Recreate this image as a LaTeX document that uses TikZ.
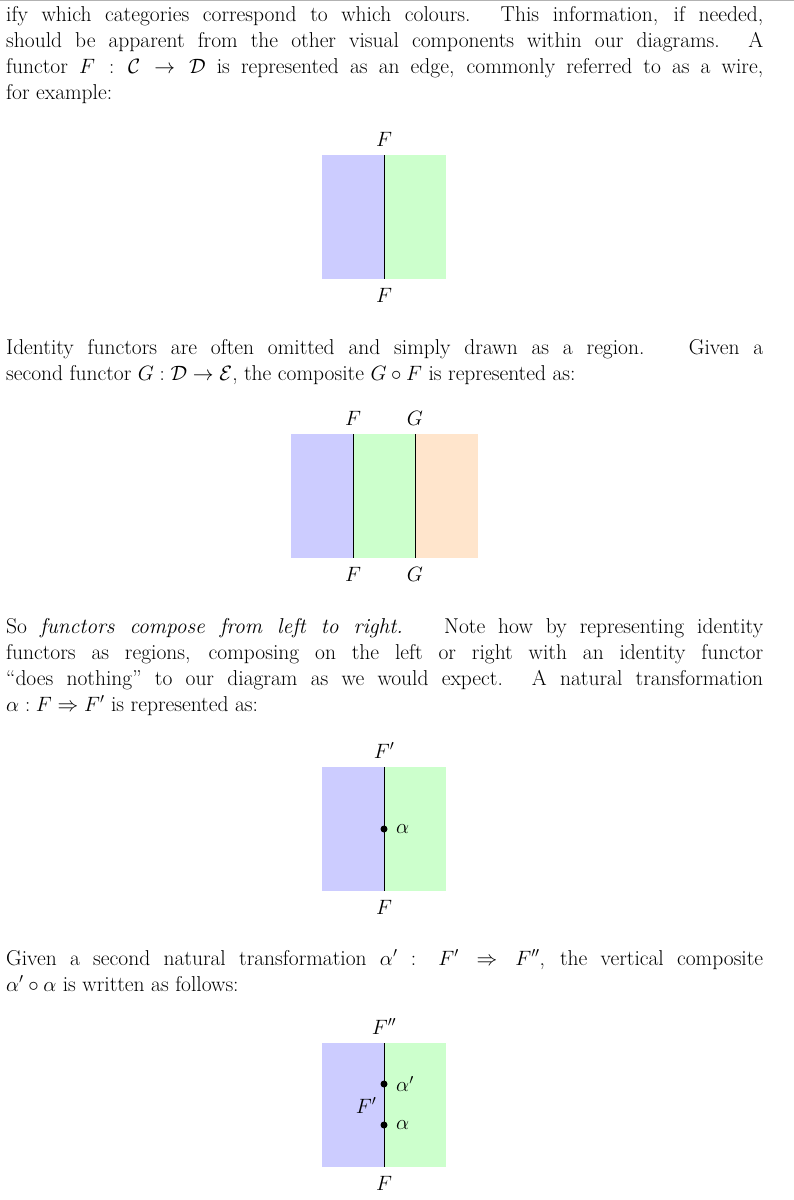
\documentclass[tikz,border=0pt]{standalone}
\usepackage{amsmath,amssymb}
\definecolor{cb}{HTML}{CCCCFF}
\definecolor{cg}{HTML}{CCFFCC}
\definecolor{co}{HTML}{FFE5CC}
\begin{document}
\begin{tikzpicture}[x=1pt,y=-1pt,
  txt/.style={anchor=base west,inner sep=0pt},
  lab/.style={inner sep=0pt,anchor=base},
  wire/.style={draw=black,line width=0.9pt},
  dot/.style={circle,fill=black,inner sep=0pt,minimum size=7pt},
  every node/.style={font=\fontsize{21.5}{26}\selectfont}]
\useasboundingbox (0,0) rectangle (794,1200);
\draw[gray!60,line width=1.2pt] (0,0.6) -- (794,0.6);
\newcommand{\jl}[1]{\makebox[757pt][s]{#1}}
% paragraph 1
\node[txt] (l1) at (6,21) {\jl{ify which categories correspond to which colours. This information, if needed,}};
\node[txt] (l2) at (6,47) {\jl{should be apparent from the other visual components within our diagrams. A}};
\node[txt] (l3) at (6,73) {\jl{functor $F:\mathcal{C}\to\mathcal{D}$ is represented as an edge, commonly referred to as a wire,}};
\node[txt] (l4) at (6,99) {for example:};
% diagram 1
\fill[cb] (322,155) rectangle (384,279);
\fill[cg] (384,155) rectangle (446,279);
\coordinate (w1t) at (384,155); \coordinate (w1b) at (384,279);
\draw[wire] (w1t) -- (w1b);
\node[lab] (f1t) at (384,146) {$F$};
\node[lab] (f1b) at (384,302) {$F$};
% paragraph 2
\node[txt] (m1) at (6,354) {\jl{Identity functors are often omitted and simply drawn as a region. \ Given a}};
\node[txt] (m2) at (6,380) {second functor $G:\mathcal{D}\to\mathcal{E}$, the composite $G\circ F$ is represented as:};
% diagram 2
\fill[cb] (291,434) rectangle (353,558);
\fill[cg] (353,434) rectangle (415,558);
\fill[co] (415,434) rectangle (478,558);
\coordinate (w2t) at (353,434); \coordinate (w2b) at (353,558);
\coordinate (w3t) at (415,434); \coordinate (w3b) at (415,558);
\draw[wire] (w2t) -- (w2b);
\draw[wire] (w3t) -- (w3b);
\node[lab] (f2t) at (353,425) {$F$};
\node[lab] (g2t) at (415,425) {$G$};
\node[lab] (f2b) at (353,581) {$F$};
\node[lab] (g2b) at (415,581) {$G$};
% paragraph 3
\node[txt] (n1) at (6,633) {\jl{So \textit{functors compose from left to right.} \ Note how by representing identity}};
\node[txt] (n2) at (6,659) {\jl{functors as regions, composing on the left or right with an identity functor}};
\node[txt] (n3) at (6,685) {\jl{``does nothing'' to our diagram as we would expect. A natural transformation}};
\node[txt] (n4) at (6,711) {$\alpha:F\Rightarrow F'$ is represented as:};
% diagram 3
\fill[cb] (322,767) rectangle (384,891);
\fill[cg] (384,767) rectangle (446,891);
\coordinate (w4t) at (384,767); \coordinate (w4b) at (384,891);
\draw[wire] (w4t) -- (w4b);
\node[dot] (d3) at (384,829) {};
\node[anchor=west,inner sep=0pt] (a3) at (396,829) {$\alpha$};
\node[lab] (f3t) at (384,758) {$F'$};
\node[lab] (f3b) at (384,914) {$F$};
% paragraph 4
\node[txt] (o1) at (6,965) {\jl{Given a second natural transformation $\alpha'$ : $F'\Rightarrow F''$, the vertical composite}};
\node[txt] (o2) at (6,991) {$\alpha'\circ\alpha$ is written as follows:};
% diagram 4
\fill[cb] (322,1043) rectangle (384,1167);
\fill[cg] (384,1043) rectangle (446,1167);
\coordinate (w5t) at (384,1043); \coordinate (w5b) at (384,1167);
\draw[wire] (w5t) -- (w5b);
\node[dot] (d4a) at (384,1084) {};
\node[dot] (d4b) at (384,1125) {};
\node[anchor=west,inner sep=0pt] (a4a) at (396,1084) {$\alpha'$};
\node[anchor=west,inner sep=0pt] (a4b) at (396,1125) {$\alpha$};
\node[lab] (f4m) at (366,1113) {$F'$};
\node[lab] (f4t) at (384,1034) {$F''$};
\node[lab] (f4b) at (384,1190) {$F$};
\end{tikzpicture}
\end{document}
